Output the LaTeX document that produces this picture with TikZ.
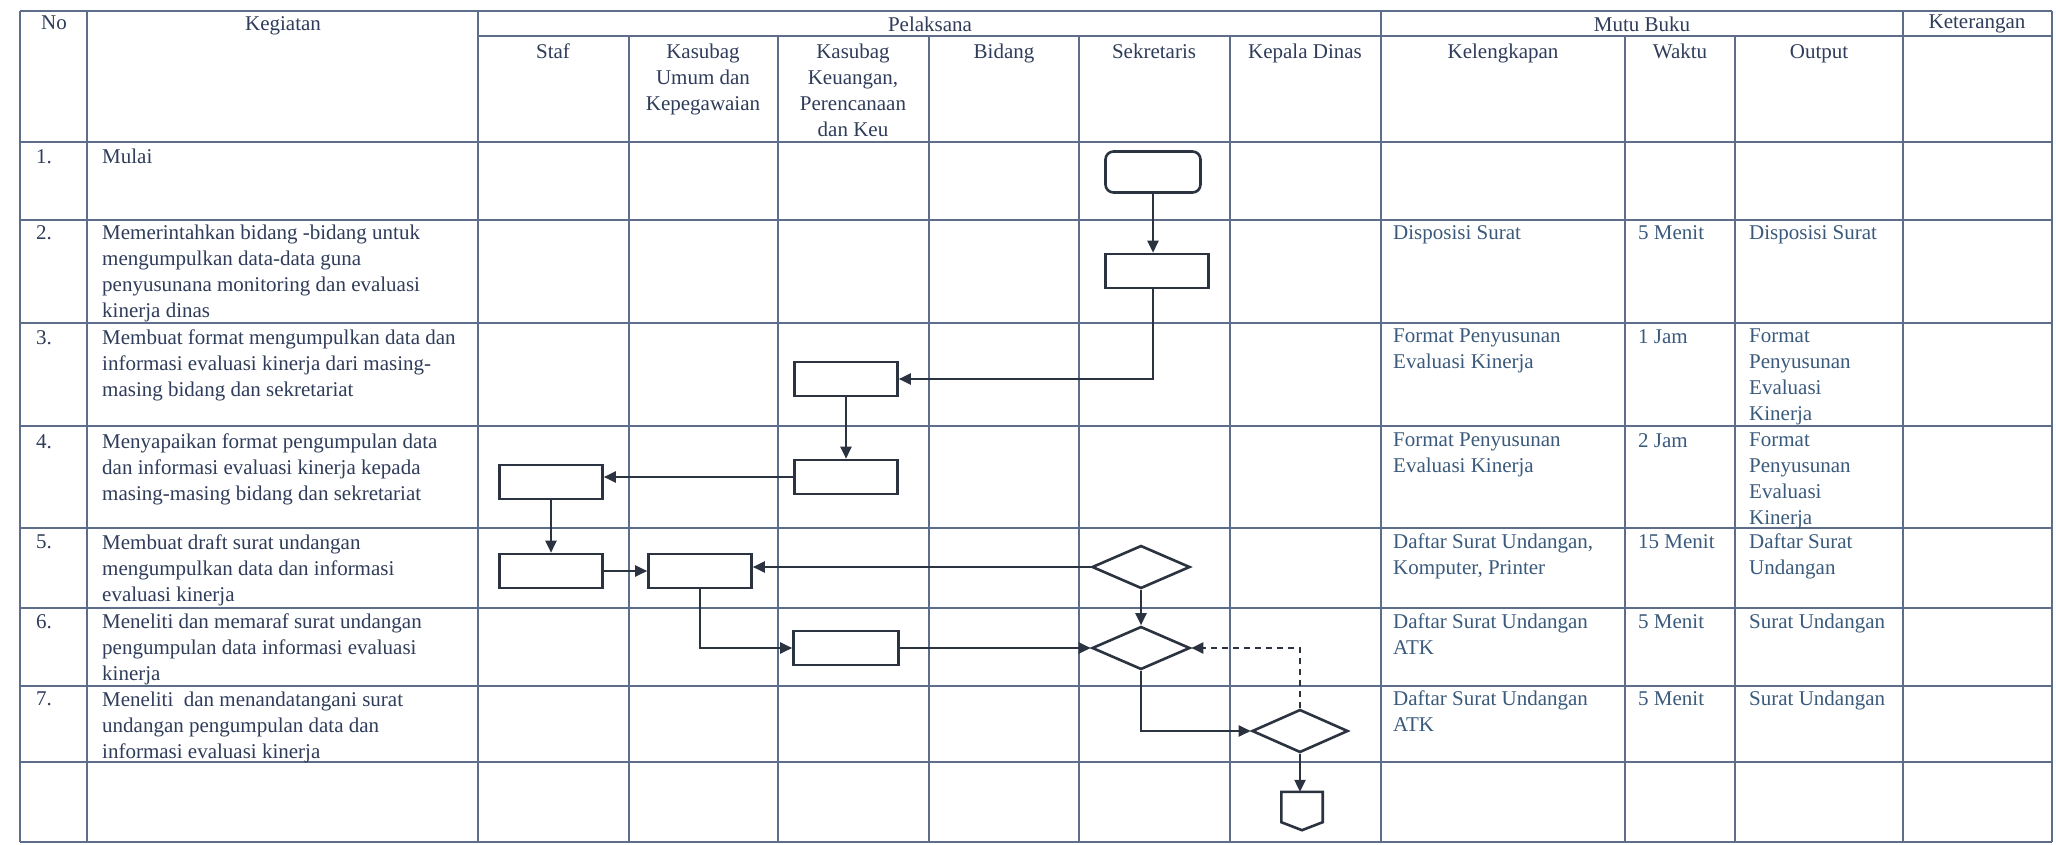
\documentclass[tikz,border=0pt]{standalone}
\usepackage{fontspec}
\setmainfont{Liberation Serif}
\usetikzlibrary{arrows.meta,shapes.geometric}
\definecolor{gridc}{HTML}{5D6D8A}
\definecolor{txtc}{HTML}{2F3C5A}
\definecolor{mutuc}{HTML}{3A5A7C}
\definecolor{flowc}{HTML}{2B3240}
\tikzset{
  hline/.style={draw=gridc, line width=1.7pt},
  vline/.style={draw=gridc, line width=1.2pt},
  tx/.style={text=txtc, inner sep=0pt, font=\fontsize{21pt}{26pt}\selectfont},
  hd/.style={tx, anchor=north, align=center},
  act/.style={tx, anchor=north west, align=left},
  mutu/.style={act, text=mutuc},
  box/.style={draw=flowc, line width=2.6pt, minimum width=103pt, minimum height=34pt, inner sep=0pt},
  dec/.style={diamond, draw=flowc, line width=2.6pt, minimum width=98pt, minimum height=43pt, inner sep=0pt},
  arr/.style={draw=flowc, line width=2.3pt, -{Triangle[length=12pt,width=11pt]}},
  darr/.style={arr, line width=2pt, dash pattern=on 6pt off 5pt}
}
\begin{document}
\begin{tikzpicture}[x=1pt,y=-1pt]
\useasboundingbox (0,0) rectangle (2056,845);
\fill[white] (0,0) rectangle (2056,845);
% table grid
\draw[hline] (20,11) -- (2052,11);
\draw[hline] (478,36) -- (2052,36);
\foreach \y in {142,220,323,426,528,608,686,762,842} \draw[hline] (20,\y) -- (2052,\y);
\foreach \x in {20,87,478,1381,1903,2052} \draw[vline] (\x,11) -- (\x,842);
\foreach \x in {629,778,929,1079,1230,1625,1735} \draw[vline] (\x,36) -- (\x,842);
% headers
\node[hd] (hNo) at (54,16) {No};
\node[hd] (hKeg) at (283,16) {Kegiatan};
\node[hd] (hPel) at (930,17) {Pelaksana};
\node[hd] (hMutu) at (1642,17) {Mutu Buku};
\node[hd] (hKet) at (1977,15) {Keterangan};
\node[hd] (hStaf) at (553,44) {Staf};
\node[hd] (hKU) at (703,44) {Kasubag\\Umum dan\\Kepegawaian};
\node[hd] (hKK) at (853,44) {Kasubag\\Keuangan,\\Perencanaan\\dan Keu};
\node[hd] (hBid) at (1004,44) {Bidang};
\node[hd] (hSek) at (1154,44) {Sekretaris};
\node[hd] (hKep) at (1305,44) {Kepala Dinas};
\node[hd] (hKel) at (1503,44) {Kelengkapan};
\node[hd] (hWak) at (1680,44) {Waktu};
\node[hd] (hOut) at (1819,44) {Output};
% numbers
\node[act] (n1) at (36,149) {1.};
\node[act] (n2) at (36,225) {2.};
\node[act] (n3) at (36,330) {3.};
\node[act] (n4) at (36,434) {4.};
\node[act] (n5) at (36,535) {5.};
\node[act] (n6) at (36,614) {6.};
\node[act] (n7) at (36,692) {7.};
% activities
\node[act] (a1) at (102,149) {Mulai};
\node[act] (a2) at (102,225) {Memerintahkan bidang -bidang untuk\\mengumpulkan data-data guna\\penyusunana monitoring dan evaluasi\\kinerja dinas};
\node[act] (a3) at (102,330) {Membuat format mengumpulkan data dan\\informasi evaluasi kinerja dari masing-\\masing bidang dan sekretariat};
\node[act] (a4) at (102,434) {Menyapaikan format pengumpulan data\\dan informasi evaluasi kinerja kepada\\masing-masing bidang dan sekretariat};
\node[act] (a5) at (102,535) {Membuat draft surat undangan\\mengumpulkan data dan informasi\\evaluasi kinerja};
\node[act] (a6) at (102,614) {Meneliti dan memaraf surat undangan\\pengumpulan data informasi evaluasi\\kinerja};
\node[act] (a7) at (102,692) {Meneliti\ \ dan menandatangani surat\\undangan pengumpulan data dan\\informasi evaluasi kinerja};
% mutu buku
\node[mutu] (k2) at (1393,225) {Disposisi Surat};
\node[mutu] (w2) at (1638,225) {5 Menit};
\node[mutu] (o2) at (1749,225) {Disposisi Surat};
\node[mutu] (kl3) at (1393,329) {Format Penyusunan\\Evaluasi Kinerja};
\node[mutu] (w3) at (1638,329) {1 Jam};
\node[mutu] (o3) at (1749,329) {Format\\Penyusunan\\Evaluasi\\Kinerja};
\node[mutu] (kl4) at (1393,433) {Format Penyusunan\\Evaluasi Kinerja};
\node[mutu] (w4) at (1638,433) {2 Jam};
\node[mutu] (o4) at (1749,433) {Format\\Penyusunan\\Evaluasi\\Kinerja};
\node[mutu] (kl5) at (1393,534) {Daftar Surat Undangan,\\Komputer, Printer};
\node[mutu] (w5) at (1638,534) {15 Menit};
\node[mutu] (o5) at (1749,534) {Daftar Surat\\Undangan};
\node[mutu] (kl6) at (1393,614) {Daftar Surat Undangan\\ATK};
\node[mutu] (w6) at (1638,614) {5 Menit};
\node[mutu] (o6) at (1749,614) {Surat Undangan};
\node[mutu] (kl7) at (1393,691) {Daftar Surat Undangan\\ATK};
\node[mutu] (w7) at (1638,691) {5 Menit};
\node[mutu] (o7) at (1749,691) {Surat Undangan};
% flowchart shapes
\node[box, rounded corners=8pt, minimum width=95pt, minimum height=41pt] (start) at (1153,172) {};
\node[box] (s2) at (1157,271) {};
\node[box] (k3) at (846,379) {};
\node[box] (k4) at (846,477) {};
\node[box] (s4) at (551,482) {};
\node[box] (s5) at (551,571) {};
\node[box] (u5) at (700,571) {};
\node[dec] (d5) at (1141,567) {};
\node[box, minimum width=105pt] (k6) at (846,648) {};
\node[dec] (d6) at (1141,648) {};
\node[dec, minimum width=96pt] (d7) at (1300,731) {};
\node[inner sep=0pt, minimum width=41pt, minimum height=38pt] (off) at (1302,811) {};
\draw[draw=flowc, line width=2.6pt, line join=miter] (off.north west) -- (off.north east) -- ([yshift=8pt]off.south east) -- (off.south) -- ([yshift=8pt]off.south west) -- cycle;
% connectors
\draw[arr] (start.south) -- (start.south |- s2.north);
\draw[arr] (s2.south -| start.south) |- (k3.east);
\draw[arr] (k3) -- (k4);
\draw[arr] (k4.west) -- (k4.west -| s4.east);
\draw[arr] (s4) -- (s5);
\draw[arr] (s5) -- (u5);
\draw[arr] (d5.west) -- (d5.west -| u5.east);
\draw[arr] (u5.south) |- (k6.west);
\draw[arr] (k6) -- (d6);
\draw[arr] (d5) -- (d6);
\draw[arr] (d6.south) |- (d7.west);
\draw[darr] (d7.north) |- (d6.east);
\draw[arr] (d7.south) -- (d7.south |- off.north);
\end{tikzpicture}
\end{document}
